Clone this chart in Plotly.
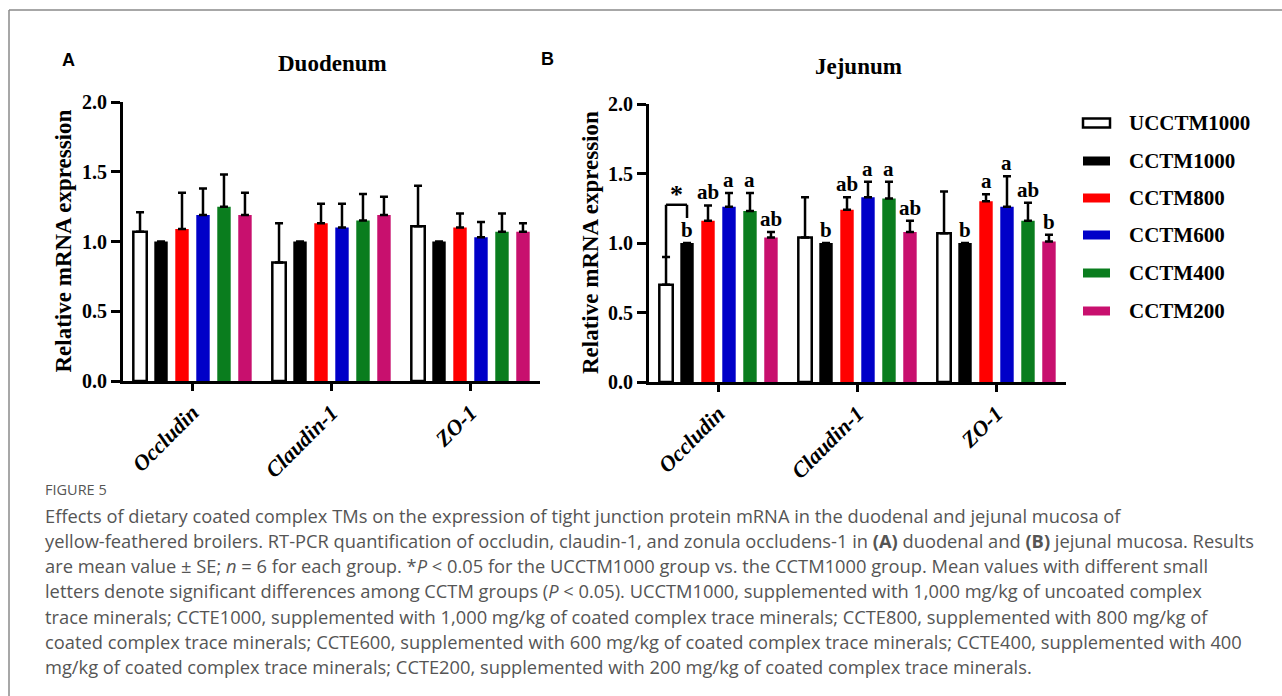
import plotly.graph_objects as go

W, H = 1282, 696

# ---------------- data ----------------
genes = ["Occludin", "Claudin-1", "ZO-1"]
groups = ["UCCTM1000", "CCTM1000", "CCTM800", "CCTM600", "CCTM400", "CCTM200"]
colors = ["#FFFFFF", "#000000", "#FF0000", "#0000C8", "#0A7D1E", "#C8106E"]

duo_UCCTM1000 = [1.07, 0.85, 1.11]
duo_CCTM1000 = [1.00, 1.00, 1.00]
duo_CCTM800 = [1.09, 1.13, 1.10]
duo_CCTM600 = [1.19, 1.10, 1.03]
duo_CCTM400 = [1.25, 1.15, 1.07]
duo_CCTM200 = [1.19, 1.19, 1.07]
duo_means = [duo_UCCTM1000, duo_CCTM1000, duo_CCTM800, duo_CCTM600, duo_CCTM400, duo_CCTM200]

duo_se_UCCTM1000 = [0.14, 0.28, 0.29]
duo_se_CCTM1000 = [0.0, 0.0, 0.0]
duo_se_CCTM800 = [0.26, 0.14, 0.10]
duo_se_CCTM600 = [0.19, 0.17, 0.11]
duo_se_CCTM400 = [0.23, 0.19, 0.13]
duo_se_CCTM200 = [0.16, 0.13, 0.06]
duo_se = [duo_se_UCCTM1000, duo_se_CCTM1000, duo_se_CCTM800, duo_se_CCTM600, duo_se_CCTM400, duo_se_CCTM200]

jej_UCCTM1000 = [0.70, 1.04, 1.07]
jej_CCTM1000 = [1.00, 1.00, 1.00]
jej_CCTM800 = [1.16, 1.24, 1.30]
jej_CCTM600 = [1.26, 1.33, 1.26]
jej_CCTM400 = [1.23, 1.32, 1.16]
jej_CCTM200 = [1.04, 1.08, 1.01]
jej_means = [jej_UCCTM1000, jej_CCTM1000, jej_CCTM800, jej_CCTM600, jej_CCTM400, jej_CCTM200]

jej_se_UCCTM1000 = [0.20, 0.29, 0.30]
jej_se_CCTM1000 = [0.0, 0.0, 0.0]
jej_se_CCTM800 = [0.11, 0.09, 0.05]
jej_se_CCTM600 = [0.10, 0.11, 0.22]
jej_se_CCTM400 = [0.13, 0.12, 0.13]
jej_se_CCTM200 = [0.04, 0.08, 0.05]
jej_se = [jej_se_UCCTM1000, jej_se_CCTM1000, jej_se_CCTM800, jej_se_CCTM600, jej_se_CCTM400, jej_se_CCTM200]

jej_letters = [
    ["", "", ""],
    ["b", "b", "b"],
    ["ab", "ab", "a"],
    ["a", "a", "a"],
    ["a", "a", "ab"],
    ["ab", "ab", "b"],
]

yticks = [0.0, 0.5, 1.0, 1.5, 2.0]

# ---------------- helpers ----------------
def px(x):
    return x / W

def py(y):
    return 1 - y / H

SERIF = "Liberation Serif, Times New Roman, serif"
SANS = "Liberation Sans, Arial, sans-serif"
CAP = "Open Sans, Noto Sans, sans-serif"

BARGAP = 0.094
BARGROUPGAP = 0.36
slot = (1 - BARGAP) / len(groups)

def offset(i):
    return (i - (len(groups) - 1) / 2) * slot

fig = go.Figure()

panels = [
    ("x", "y", duo_means, duo_se),
    ("x2", "y2", jej_means, jej_se),
]
for xa, ya, means, ses in panels:
    for i, g in enumerate(groups):
        fig.add_trace(go.Bar(
            x=genes, y=means[i], name=g, xaxis=xa, yaxis=ya,
            marker=dict(color=colors[i],
                        line=dict(color="black", width=2.5 if i == 0 else 0)),
            error_y=dict(type="data", array=ses[i], arrayminus=[0] * 3,
                         symmetric=False, color="black", thickness=2.5, width=4),
            showlegend=False,
        ))

axis_common = dict(
    showline=True, linecolor="black", linewidth=3, mirror=False,
    showgrid=False, zeroline=False, ticks="outside", tickcolor="black",
    automargin=False,
)

xA = (123, 540)
xB = (649, 1066)
yA = (381, 102)
yB = (382, 104)

fig.update_layout(
    width=W, height=H,
    margin=dict(l=0, r=0, t=0, b=0, pad=0, autoexpand=False),
    paper_bgcolor="white", plot_bgcolor="white",
    barmode="group", bargap=BARGAP, bargroupgap=BARGROUPGAP,
    xaxis=dict(domain=[px(xA[0]), px(xA[1])], anchor="y", type="category",
               categoryorder="array", categoryarray=genes,
               range=[-0.5, 2.5], tickangle=-45, ticklen=7, tickwidth=2.5,
               tickfont=dict(family=SERIF, size=22, color="black", weight="bold", style="italic"),
               **axis_common),
    yaxis=dict(domain=[py(yA[0]), py(yA[1])], anchor="x", range=[0, 2],
               tickvals=yticks, ticktext=[f"{v:.1f}" for v in yticks],
               ticklen=9, tickwidth=2.5,
               tickfont=dict(family=SERIF, size=20, color="black", weight="bold"),
               **axis_common),
    xaxis2=dict(domain=[px(xB[0]), px(xB[1])], anchor="y2", type="category",
                categoryorder="array", categoryarray=genes,
                range=[-0.5, 2.5], tickangle=-45, ticklen=7, tickwidth=2.5,
                tickfont=dict(family=SERIF, size=22, color="black", weight="bold", style="italic"),
                **axis_common),
    yaxis2=dict(domain=[py(yB[0]), py(yB[1])], anchor="x2", range=[0, 2],
                tickvals=yticks, ticktext=[f"{v:.1f}" for v in yticks],
                ticklen=9, tickwidth=2.5,
                tickfont=dict(family=SERIF, size=20, color="black", weight="bold"),
                **axis_common),
)

ann = []
shapes = []

def pann(text, x, y, font, xanchor="center", yanchor="middle", **kw):
    ann.append(dict(text=text, x=px(x), y=py(y), xref="paper", yref="paper",
                    xanchor=xanchor, yanchor=yanchor, showarrow=False, font=font, **kw))

# panel titles and labels
pann("Duodenum", 332, 63, dict(family=SERIF, size=23, color="black", weight="bold"))
pann("Jejunum", 858, 66, dict(family=SERIF, size=23, color="black", weight="bold"))
pann("A", 68, 60, dict(family=SANS, size=18, color="black", weight="bold"))
pann("B", 547, 59, dict(family=SANS, size=18, color="black", weight="bold"))

# y axis titles
for cx, (yb, yt) in [(63, yA), (590, yB)]:
    pann("Relative mRNA expression", cx, (yb + yt) / 2,
         dict(family=SERIF, size=23, color="black", weight="bold"), textangle=-90)

# significance letters (jejunum)
for i, g in enumerate(groups):
    for j, gene in enumerate(genes):
        t = jej_letters[i][j]
        if not t:
            continue
        ann.append(dict(text=t, x=j + offset(i), y=jej_means[i][j] + jej_se[i][j],
                        xref="x2", yref="y2", xanchor="center", yanchor="middle",
                        yshift=13, showarrow=False,
                        font=dict(family=SERIF, size=21, color="black", weight="bold")))

# bracket between UCCTM1000 and CCTM1000 (Occludin, jejunum)
xl = 0 + offset(0)
xr = 0 + offset(1)
ytop = 1.275
y_left0 = jej_means[0][0] + jej_se[0][0]
y_right0 = 1.18
for x0, y0, x1, y1 in [(xl, y_left0, xl, ytop), (xl, ytop, xr, ytop), (xr, ytop, xr, y_right0)]:
    shapes.append(dict(type="line", xref="x2", yref="y2", x0=x0, y0=y0, x1=x1, y1=y1,
                       line=dict(color="black", width=2.5)))
ann.append(dict(text="*", x=(xl + xr) / 2, y=ytop, xref="x2", yref="y2",
                xanchor="center", yanchor="bottom", yshift=-6, showarrow=False,
                font=dict(family=SERIF, size=26, color="black", weight="bold")))

# legend (manual, wide swatches)
leg_y = [123, 161, 198, 235, 273, 311]
for i, g in enumerate(groups):
    shapes.append(dict(type="rect", xref="paper", yref="paper",
                       x0=px(1083), x1=px(1110), y0=py(leg_y[i] + 4.5), y1=py(leg_y[i] - 4.5),
                       fillcolor=colors[i],
                       line=dict(color="black" if i == 0 else colors[i], width=2.5 if i == 0 else 0)))
    pann(g, 1127, leg_y[i], dict(family=SERIF, size=21, color="black", weight="bold"),
         xanchor="left")

# frame (top and left border of the figure box)
shapes.append(dict(type="line", xref="paper", yref="paper", x0=px(9), x1=1, y0=py(10), y1=py(10),
                   line=dict(color="#8a8a8a", width=1.5)))
shapes.append(dict(type="line", xref="paper", yref="paper", x0=px(9), x1=px(9), y0=py(10), y1=0,
                   line=dict(color="#8a8a8a", width=1.5)))

# caption
cap_lines = [
    "Effects of dietary coated complex TMs on the expression of tight junction protein mRNA in the duodenal and jejunal mucosa of",
    "yellow-feathered broilers. RT-PCR quantification of occludin, claudin-1, and zonula occludens-1 in <b>(A)</b> duodenal and <b>(B)</b> jejunal mucosa. Results",
    "are mean value ± SE; <i>n</i> = 6 for each group. *<i>P</i> &lt; 0.05 for the UCCTM1000 group vs. the CCTM1000 group. Mean values with different small",
    "letters denote significant differences among CCTM groups (<i>P</i> &lt; 0.05). UCCTM1000, supplemented with 1,000 mg/kg of uncoated complex",
    "trace minerals; CCTE1000, supplemented with 1,000 mg/kg of coated complex trace minerals; CCTE800, supplemented with 800 mg/kg of",
    "coated complex trace minerals; CCTE600, supplemented with 600 mg/kg of coated complex trace minerals; CCTE400, supplemented with 400",
    "mg/kg of coated complex trace minerals; CCTE200, supplemented with 200 mg/kg of coated complex trace minerals.",
]
pann("FIGURE 5", 43, 490, dict(family=CAP, size=14.5, color="#555555"), xanchor="left")
for k, line in enumerate(cap_lines):
    pann(line, 43, 515 + 25.3 * k, dict(family=CAP, size=18.3, color="#555555"), xanchor="left")

fig.update_layout(annotations=ann, shapes=shapes)
fig.write_html("out.html", config={"displayModeBar": False},
               post_script="document.body.style.margin='0';document.body.style.overflow='hidden';")
